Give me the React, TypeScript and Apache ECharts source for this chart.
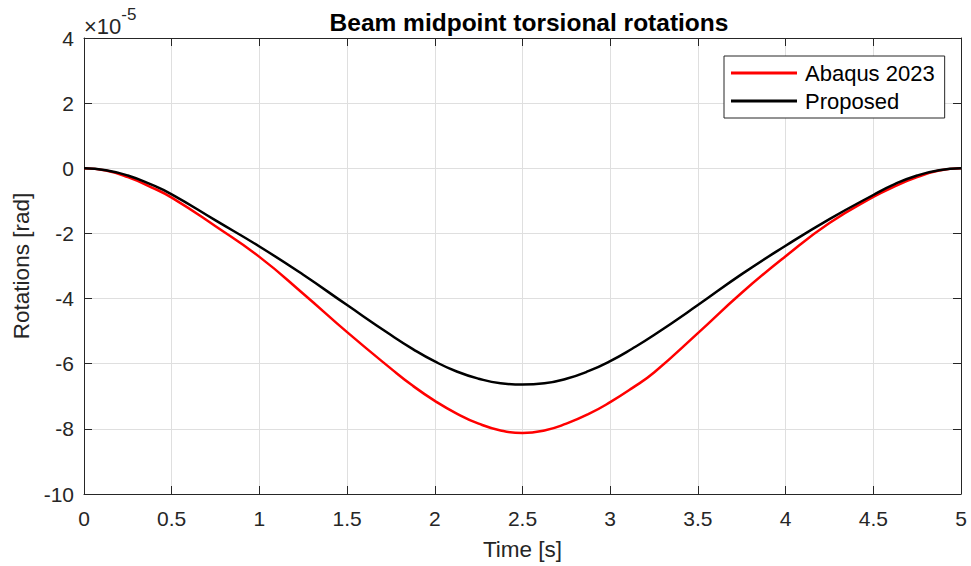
import React, { useEffect, useRef } from "react";
import * as echarts from "echarts";

// Time [s]
const timeValues = [0, 0.125, 0.25, 0.375, 0.5, 0.75, 1, 1.25, 1.5, 1.75, 1.875, 2, 2.125, 2.25, 2.375, 2.5, 2.625, 2.75, 2.875, 3, 3.125, 3.25, 3.5, 3.75, 4, 4.25, 4.5, 4.625, 4.75, 4.875, 5];
// Rotations in units of 1e-5 rad
const abaqusValues = [0, -0.07, -0.27, -0.56, -0.9, -1.78, -2.72, -3.85, -5.03, -6.15, -6.68, -7.14, -7.53, -7.84, -8.05, -8.13, -8.05, -7.84, -7.55, -7.18, -6.75, -6.27, -5.06, -3.82, -2.7, -1.68, -0.88, -0.55, -0.27, -0.07, 0];
const proposedValues = [0, -0.06, -0.22, -0.48, -0.8, -1.6, -2.4, -3.27, -4.2, -5.12, -5.55, -5.93, -6.24, -6.46, -6.6, -6.64, -6.6, -6.46, -6.23, -5.92, -5.54, -5.12, -4.2, -3.25, -2.38, -1.56, -0.82, -0.48, -0.22, -0.06, 0];

const seriesNames = ["Abaqus 2023", "Proposed"];
const titleText = "Beam midpoint torsional rotations";
const xName = "Time [s]";
const yName = "Rotations [rad]";
const xTicks = { min: 0, max: 5, interval: 0.5 };
const yTicks = { min: -10, max: 4, interval: 2 };

const FONT = "'Liberation Sans', Arial, Helvetica, sans-serif";
const INK = "#262626";
const GRID = "#dfdfdf";

export default function App() {
  const ref = useRef<HTMLDivElement>(null);
  useEffect(() => {
    if (!ref.current) return;
    const chart = echarts.init(ref.current, undefined, { renderer: "svg" });
    const pairs = (vals: number[]) => timeValues.map((t, i) => [t, vals[i]]);
    const axisCommon = {
      axisLine: { show: true, onZero: false, lineStyle: { color: INK, width: 1 } },
      axisTick: { show: true, inside: true, length: 8, lineStyle: { color: INK } },
    };
    chart.setOption({
      animation: false,
      backgroundColor: "#ffffff",
      title: {
        text: titleText,
        left: 524,
        top: 5,
        textAlign: "center",
        textStyle: { fontFamily: FONT, fontWeight: "bold", fontSize: 24.5, color: "#000" },
      },
      grid: { left: 84, right: 10, top: 38, bottom: 72 },
      legend: {
        orient: "vertical",
        left: 724,
        top: 56,
        padding: [6, 10, 6, 7],
        itemGap: 6,
        itemWidth: 66,
        itemHeight: 3,
        icon: "rect",
        borderColor: INK,
        borderWidth: 1,
        backgroundColor: "#ffffff",
        textStyle: { fontFamily: FONT, fontSize: 22, color: "#000", lineHeight: 22, padding: [0, 0, 0, 3] },
        data: seriesNames,
      },
      xAxis: [
        {
          type: "value",
          ...xTicks,
          name: xName,
          nameLocation: "middle",
          nameGap: 44,
          nameTextStyle: { fontFamily: FONT, fontSize: 22.5, color: INK },
          ...axisCommon,
          axisLabel: { fontFamily: FONT, fontSize: 21, color: INK, margin: 14 },
          splitLine: { show: true, lineStyle: { color: GRID, width: 1 } },
        },
        {
          type: "value",
          position: "top",
          ...xTicks,
          ...axisCommon,
          axisLabel: { show: false },
          splitLine: { show: false },
        },
      ],
      yAxis: [
        {
          type: "value",
          ...yTicks,
          name: yName,
          nameLocation: "middle",
          nameGap: 51,
          nameTextStyle: { fontFamily: FONT, fontSize: 22.5, color: INK },
          ...axisCommon,
          axisLabel: { fontFamily: FONT, fontSize: 21, color: INK, margin: 10 },
          splitLine: { show: true, lineStyle: { color: GRID, width: 1 } },
        },
        {
          type: "value",
          position: "right",
          ...yTicks,
          ...axisCommon,
          axisLabel: { show: false },
          splitLine: { show: false },
        },
      ],
      graphic: [
        {
          type: "text",
          left: 84,
          top: 6,
          style: {
            text: "{a|×10}{b|-5}",
            rich: {
              a: { fontFamily: FONT, fontSize: 22, fill: INK, padding: [9, 0, 0, 0] },
              b: { fontFamily: FONT, fontSize: 17, fill: INK, verticalAlign: "top" },
            },
          },
        },
      ],
      series: [
        {
          name: seriesNames[0],
          type: "line",
          data: pairs(abaqusValues),
          smooth: 0.5,
          showSymbol: false,
          lineStyle: { color: "#ff0000", width: 2.5 },
          itemStyle: { color: "#ff0000" },
          z: 3,
        },
        {
          name: seriesNames[1],
          type: "line",
          data: pairs(proposedValues),
          smooth: 0.5,
          showSymbol: false,
          lineStyle: { color: "#000000", width: 2.5 },
          itemStyle: { color: "#000000" },
          z: 4,
        },
      ],
    });
    return () => chart.dispose();
  }, []);
  return <div ref={ref} style={{ position: "fixed", left: 0, top: 0, width: 971, height: 566 }} />;
}
